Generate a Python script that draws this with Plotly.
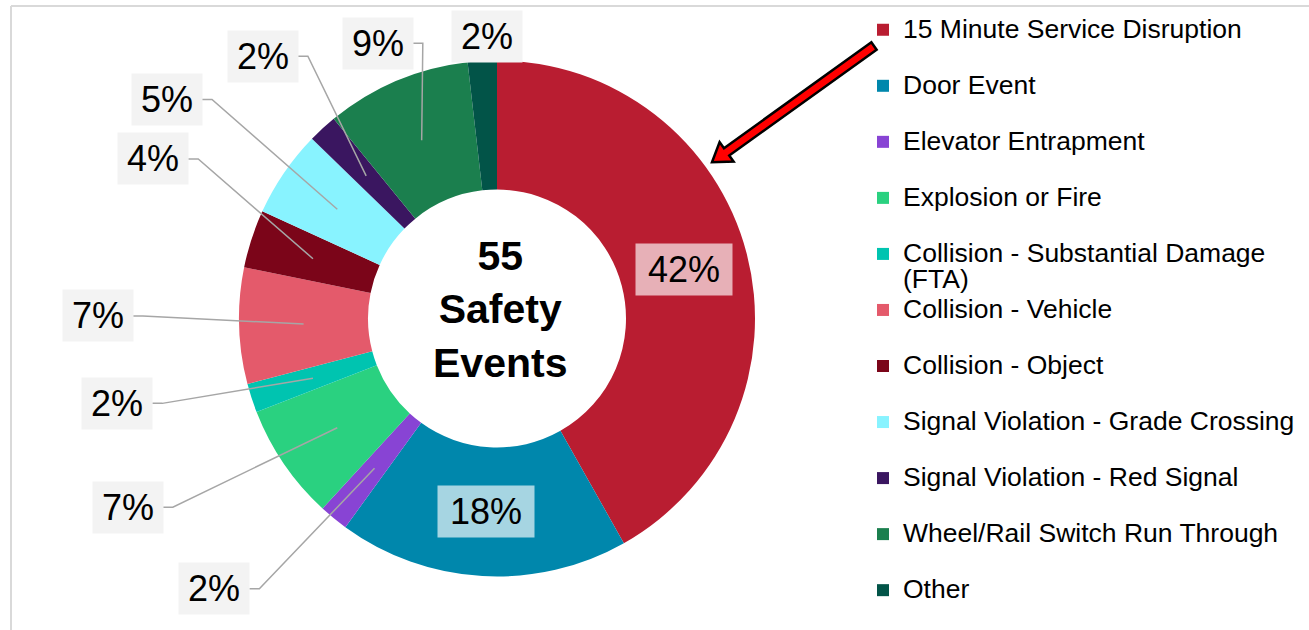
import math
import textwrap
import plotly.graph_objects as go

# ---------------- data ----------------
CATEGORIES = [
    "15 Minute Service Disruption",
    "Door Event",
    "Elevator Entrapment",
    "Explosion or Fire",
    "Collision - Substantial Damage (FTA)",
    "Collision - Vehicle",
    "Collision - Object",
    "Signal Violation - Grade Crossing",
    "Signal Violation - Red Signal",
    "Wheel/Rail Switch Run Through",
    "Other",
]
EVENT_COUNTS = [23, 10, 1, 4, 1, 4, 2, 3, 1, 5, 1]
CENTER_CAPTION = ["Safety", "Events"]

# ---------------- style ----------------
SLICE_COLORS = [
    "#B91D31", "#0087AC", "#8844D4", "#2AD180", "#00C4B0", "#E45A6B",
    "#7B0519", "#88F3FF", "#3A1660", "#1B7F4E", "#025448",
]
# per-slice label placement: (mode, angle nudge in degrees, distance / outer radius, leader line)
LABEL_PLACEMENT = [
    ("inside", 0.0, 0.75, False),
    ("inside", 0.0, 0.75, False),
    ("outside", 7.0, 1.516, True),
    ("outside", 7.3, 1.607, True),
    ("outside", 5.4, 1.508, True),
    ("outside", 2.0, 1.547, True),
    ("outside", 6.9, 1.469, True),
    ("outside", -0.8, 1.535, True),
    ("outside", 0.8, 1.363, True),
    ("outside", -0.5, 1.163, True),
    ("outside", 1.3, 1.093, False),
]
FONT = "Liberation Sans, Arial, sans-serif"
W, H = 1309, 630
CX, CY, R = 497.0, 318.5, 258.0   # donut centre / outer radius (px)
HOLE = 0.5

def to_paper(px, py):
    return px / W, 1 - py / H

def polar(theta_deg, r):
    t = math.radians(theta_deg)
    return CX + r * math.sin(t), CY - r * math.cos(t)

total = sum(EVENT_COUNTS)
pcts = [round(v / total * 100) for v in EVENT_COUNTS]

# legend labels: wrap long names, big inline font, second line keeps spacing
LEG_FONT_PX = 26.5
def legend_label(name, last):
    lines = textwrap.wrap(name, 34)
    if len(lines) == 1 and not last:
        lines.append("\u00a0")
    return "<br>".join(f"<span style='font-size:{LEG_FONT_PX}px'>{ln}</span>" for ln in lines)

legend_labels = [legend_label(c, i == len(CATEGORIES) - 1) for i, c in enumerate(CATEGORIES)]

fig = go.Figure()
fig.add_trace(go.Pie(
    labels=legend_labels,
    values=EVENT_COUNTS,
    marker=dict(colors=SLICE_COLORS, line=dict(width=0)),
    hole=HOLE,
    sort=False,
    direction="clockwise",
    rotation=0,
    textinfo="none",
    hovertext=CATEGORIES,
    hoverinfo="text+value+percent",
    domain=dict(x=[(CX - R) / W, (CX + R) / W], y=[1 - (CY + R) / H, 1 - (CY - R) / H]),
    showlegend=True,
))

annotations = []
shapes = []

# percentage labels
cum = 0.0
for cnt, pct, (mode, dtheta, rfac, leader) in zip(EVENT_COUNTS, pcts, LABEL_PLACEMENT):
    a0 = cum / total * 360
    cum += cnt
    a1 = cum / total * 360
    mid = (a0 + a1) / 2
    txt = f"{pct}%"
    text_w = 36 * (0.556 * (len(txt) - 1) + 0.889)
    box_w = text_w + (24 if mode == "inside" else 18)
    box_h = 51
    lx, ly = polar(mid + dtheta, rfac * R)
    px_, py_ = to_paper(lx, ly)
    bg = "rgba(255,255,255,0.65)" if mode == "inside" else "#F3F3F3"
    annotations.append(dict(
        x=px_, y=py_, xref="paper", yref="paper", xanchor="center", yanchor="middle",
        text=txt, showarrow=False, font=dict(family=FONT, size=36, color="#000000"),
        bgcolor=bg, width=box_w, height=box_h, borderpad=0, align="center", valign="middle",
    ))
    if leader:
        side = 1 if lx < CX else -1
        sx, sy = lx + side * box_w / 2, ly
        kx, ky = sx + side * 10, sy
        ex, ey = polar(mid, (1 + HOLE) / 2 * R)
        pts = [to_paper(sx, sy), to_paper(kx, ky), to_paper(ex, ey)]
        path = "M " + " L ".join(f"{x:.5f},{y:.5f}" for x, y in pts)
        shapes.append(dict(type="path", xref="paper", yref="paper", path=path,
                           line=dict(color="#A6A6A6", width=1.5)))

# centre caption
cx_p, cy_p = to_paper(CX + 3, CY - 9)
annotations.append(dict(
    x=cx_p, y=cy_p, xref="paper", yref="paper", xanchor="center", yanchor="middle",
    text="<b>" + "<br>".join([str(total)] + CENTER_CAPTION) + "</b>", showarrow=False,
    font=dict(family=FONT, size=41, color="#000000"), align="center",
))

# chart-area frame (top & left edges visible)
fx0, fy0 = to_paper(11, 6)
shapes.append(dict(type="line", xref="paper", yref="paper", x0=fx0, y0=fy0, x1=1.02, y1=fy0,
                   line=dict(color="#D9D9D9", width=2)))
shapes.append(dict(type="line", xref="paper", yref="paper", x0=fx0, y0=fy0, x1=fx0, y1=-0.02,
                   line=dict(color="#D9D9D9", width=2)))

# red call-out arrow pointing at the first slice
tip = polar(54.0, 1.03 * R)
tail = (874.0, 46.0)
dx, dy = tip[0] - tail[0], tip[1] - tail[1]
L = math.hypot(dx, dy)
ux, uy = dx / L, dy / L
nx, ny = -uy, ux
hw, hh, hl = 4.5, 12.0, 18.0
bx, by = tip[0] - ux * hl, tip[1] - uy * hl
poly = [
    (tail[0] + nx * hw, tail[1] + ny * hw),
    (bx + nx * hw, by + ny * hw),
    (bx + nx * hh, by + ny * hh),
    tip,
    (bx - nx * hh, by - ny * hh),
    (bx - nx * hw, by - ny * hw),
    (tail[0] - nx * hw, tail[1] - ny * hw),
]
apath = "M " + " L ".join(f"{to_paper(x, y)[0]:.5f},{to_paper(x, y)[1]:.5f}" for x, y in poly) + " Z"
shapes.append(dict(type="path", xref="paper", yref="paper", path=apath,
                   fillcolor="#FF0000", line=dict(color="#000000", width=2.5)))

leg_x, leg_y = to_paper(863, 10)
fig.update_layout(
    width=W, height=H,
    margin=dict(l=0, r=0, t=0, b=0),
    paper_bgcolor="#FFFFFF", plot_bgcolor="#FFFFFF",
    font=dict(family=FONT, color="#000000"),
    legend=dict(
        x=leg_x, y=leg_y, xanchor="left", yanchor="top",
        font=dict(family=FONT, size=20.4, color="#000000"),
        valign="top", bgcolor="rgba(0,0,0,0)", traceorder="normal",
    ),
    annotations=annotations,
    shapes=shapes,
)

fig.write_html("out.html")
